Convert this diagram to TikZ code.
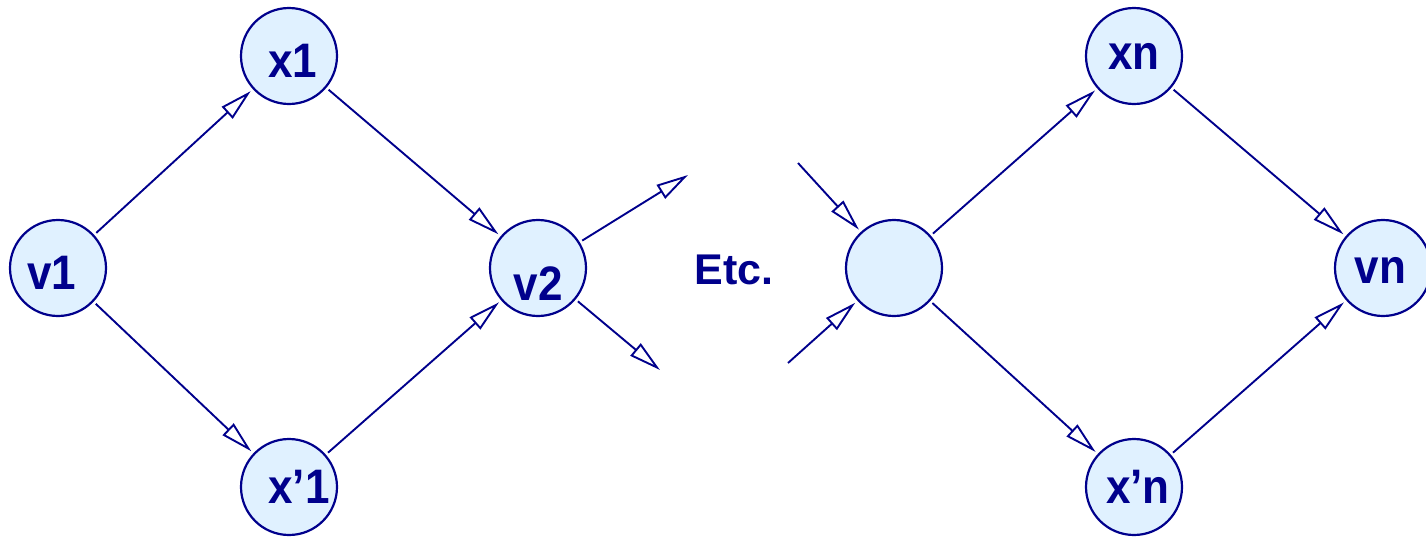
\documentclass[tikz,border=0pt]{standalone}
\usepackage{fontspec}
\setmainfont{Liberation Sans}
\usetikzlibrary{arrows.meta}
\definecolor{navy}{RGB}{0,0,140}
\definecolor{nodefill}{RGB}{224,241,255}
\newcommand{\lbl}[1]{\scalebox{1.0}[1.1]{#1}}
\tikzset{
  vnode/.style={circle, draw=navy, fill=nodefill, line width=2.2pt, minimum size=96pt, inner sep=0pt, outer sep=4pt, text=navy, font=\fontsize{44}{44}\selectfont\bfseries},
  edge/.style={draw=navy, line width=1.9pt, -{Triangle[open, length=32pt, width=16pt, fill=white]}},
  etc/.style={text=navy, font=\fontsize{43}{43}\selectfont\bfseries}
}
\begin{document}
\begin{tikzpicture}[x=1pt,y=-1pt]
\useasboundingbox (0,0) rectangle (1426,536);
\clip (0,0) rectangle (1426,536);
\node[vnode, text height=42pt] (v1) at (58,268) {\hspace{-12pt}\lbl{v1}};
\node[vnode, text height=43pt] (x1) at (289,56) {\hspace{7pt}\lbl{x1}};
\node[vnode] (xp1) at (289,487) {\hspace{20pt}\lbl{x'1}};
\node[vnode, text height=65pt] (v2) at (538,268) {\lbl{v2}};
\node[etc] (etc) at (734,270) {Etc.};
\node[vnode] (b) at (894,268) {};
\node[vnode] (xn) at (1134,56) {\lbl{xn}};
\node[vnode] (xpn) at (1134,487) {\hspace{8pt}\lbl{x'n}};
\node[vnode, text height=31pt] (vn) at (1383,268) {\hspace{-5pt}\lbl{vn}};
\coordinate (o1) at (688,175);
\coordinate (o2) at (660,370);
\coordinate (i1) at (798,163);
\coordinate (i2) at (788,363);
\draw[edge] (v1) -- (x1);
\draw[edge] (v1) -- (xp1);
\draw[edge] (x1) -- (v2);
\draw[edge] (xp1) -- (v2);
\draw[edge] (v2) -- (o1);
\draw[edge] (v2) -- (o2);
\draw[edge] (i1) -- (b);
\draw[edge] (i2) -- (b);
\draw[edge] (b) -- (xn);
\draw[edge] (b) -- (xpn);
\draw[edge] (xn) -- (vn);
\draw[edge] (xpn) -- (vn);
\end{tikzpicture}
\end{document}
